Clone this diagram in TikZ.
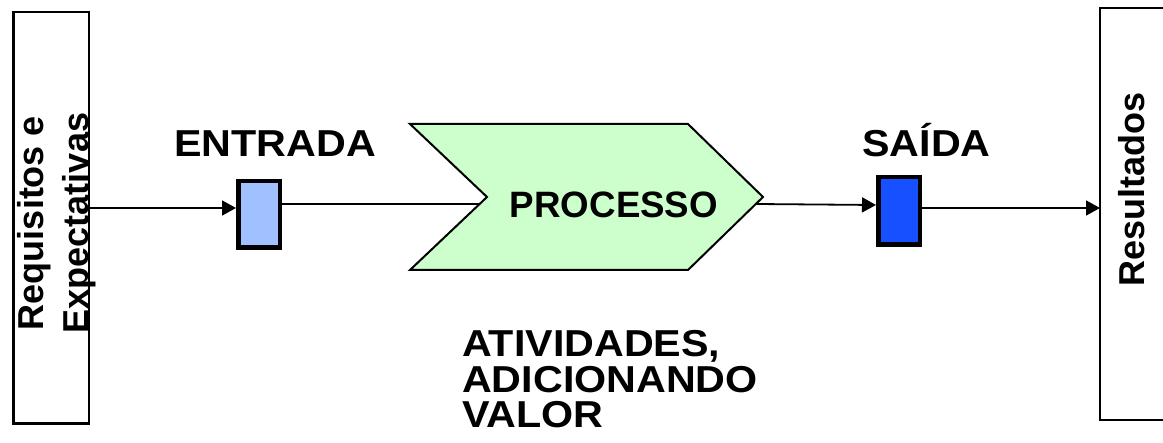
\documentclass[tikz,border=0pt]{standalone}
\usepackage{fontspec}
\setmainfont{Liberation Sans}
\newfontfamily\widesans[FakeStretch=1.1]{Liberation Sans}
\usetikzlibrary{arrows.meta}
\definecolor{entradablue}{RGB}{160,192,255}
\definecolor{saidablue}{RGB}{22,80,255}
\definecolor{procgreen}{RGB}{204,255,204}

\begin{document}
\begin{tikzpicture}[x=1pt,y=-1pt,
    conn/.style={line width=1.8pt},
    arrowconn/.style={conn,-{Triangle[length=14pt,width=15pt]}},
    port/.style={draw,line width=4.5pt,minimum width=41.5pt,inner sep=0pt},
    bigbox/.style={draw,line width=2.5pt,inner sep=0pt},
    biglbl/.style={font=\widesans\fontsize{37.5}{35.5}\selectfont\bfseries,inner sep=0pt},
    sidelbl/.style={font=\fontsize{36}{45}\selectfont\bfseries,inner sep=0pt,rotate=90,align=center}]
    \useasboundingbox (0,0) rectangle (1163,443);

    % side boxes
    \node[bigbox,minimum width=75.5pt,minimum height=411.5pt] (req) at (51,218) {};
    \node[sidelbl] (reqtxt) at (56.5,223) {Requisitos e\\Expectativas};
    \draw[line width=2.5pt] (1200,8) -- (1100,8) -- (1100,420) -- (1200,420);
    \coordinate (res) at (1100,208);
    \node[sidelbl] (restxt) at (1132,189.5) {Resultados};

    % entrada and saida
    \node[port,fill=entradablue,minimum height=66.5pt] (ent) at (259,214.5) {};
    \node[port,fill=saidablue,minimum height=67.5pt] (sai) at (899,211) {};
    \node[biglbl,anchor=base] (enttxt) at (275,157) {ENTRADA};
    \node[biglbl,anchor=base] (saitxt) at (926.5,157) {SAÍDA};

    % processo
    \filldraw[fill=procgreen,line width=2pt,line join=miter]
        (410,124) -- (688,124) -- (763,197) -- (688,270) -- (410,270) -- (487,197) -- cycle;
    \coordinate (procin) at (480,204);
    \coordinate (procout) at (756,204);
    \node[font=\fontsize{36.7}{40}\selectfont\bfseries,inner sep=0pt,anchor=base] (proctxt) at (614,218) {PROCESSO};
    \node[biglbl,align=left,anchor=base west] (ativtxt) at (462,428) {ATIVIDADES,\\ADICIONANDO\\VALOR};

    % connectors
    \draw[arrowconn] (req.east |- 0,208) -- (ent.west |- 0,208);
    \draw[conn] (ent.east |- 0,204) -- (procin);
    \draw[arrowconn] (procout) -- (sai.west |- 0,205);
    \draw[arrowconn] (sai.east |- 0,208) -- (res);
\end{tikzpicture}
\end{document}
